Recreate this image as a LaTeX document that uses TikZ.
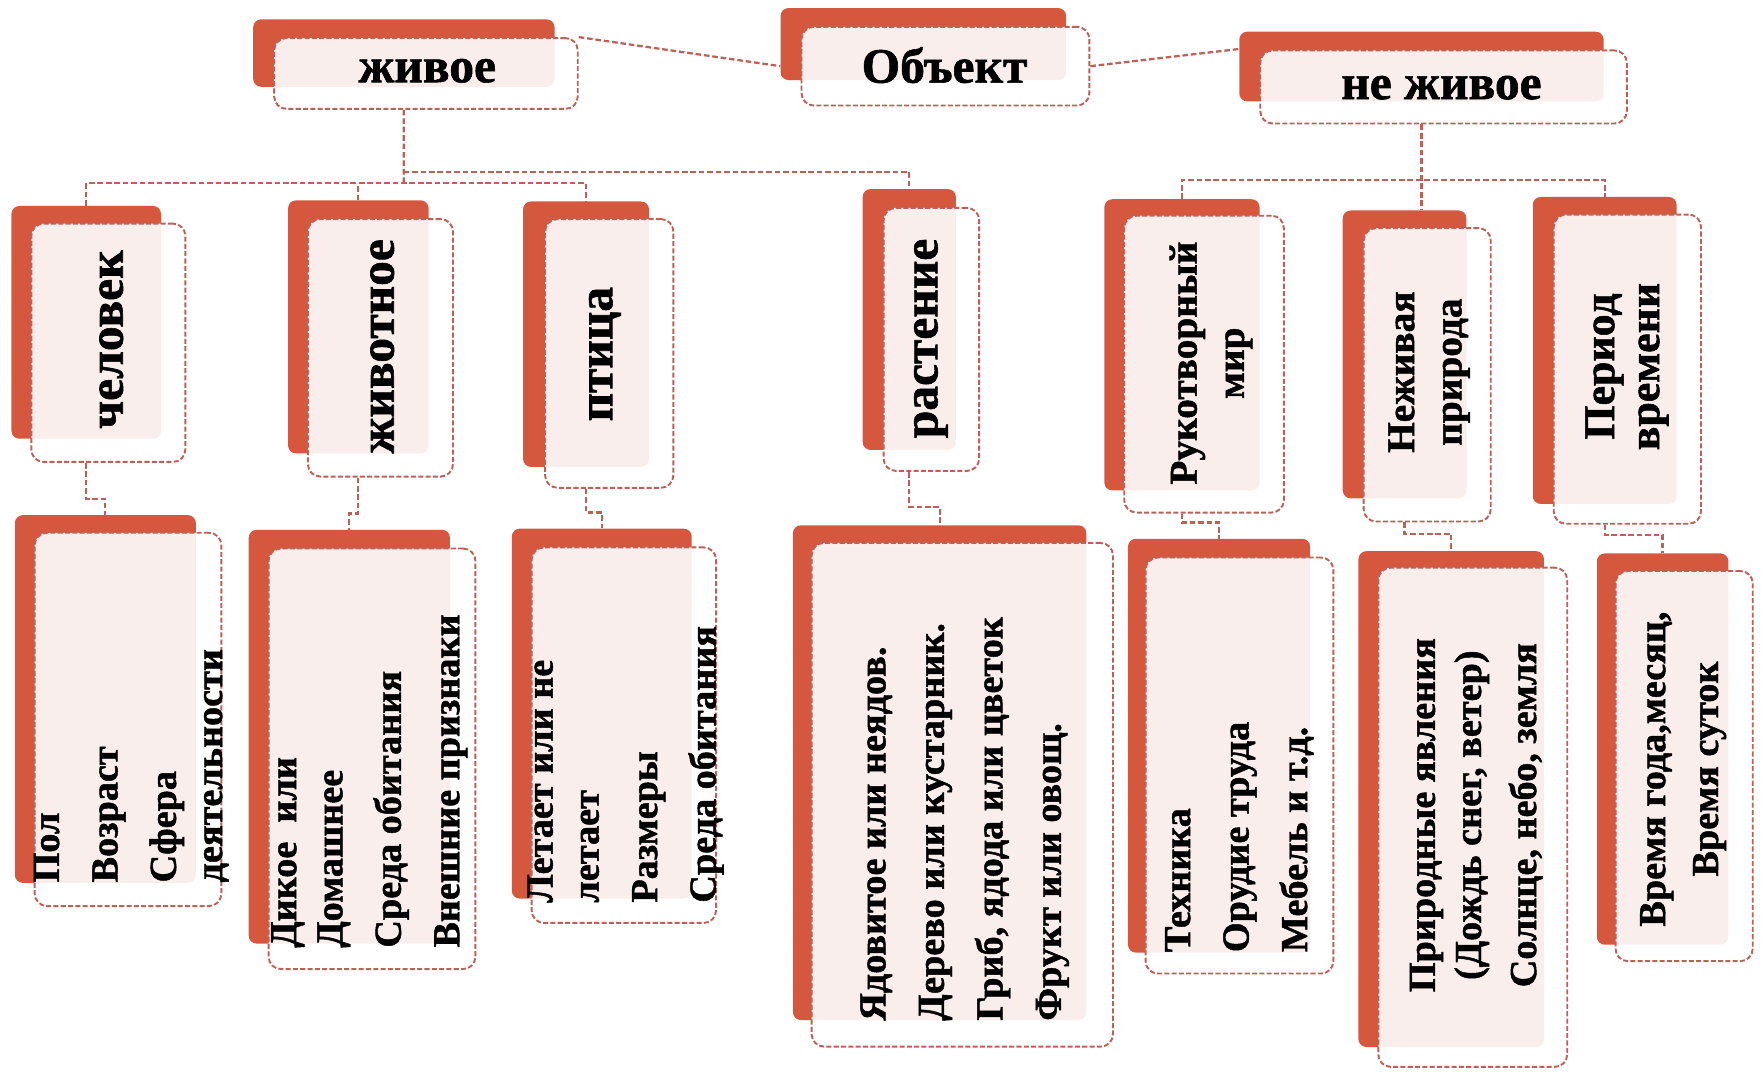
\documentclass[tikz,border=0pt]{standalone}
\usepackage{fontspec}
\setmainfont{Liberation Serif}[BoldFeatures={FakeBold=1.2}]
\usepackage{tikz}
\usetikzlibrary{positioning}
\usetikzlibrary{calc}

\definecolor{backred}{RGB}{213,88,62}
\definecolor{edgered}{RGB}{188,96,88}

\begin{document}
\begin{tikzpicture}[
    x=1pt, y=-1pt,
    backbox/.style={anchor=north west, inner sep=0, fill=backred, rounded corners=7pt},
    frontbox/.style={anchor=north west, inner sep=0, draw=edgered, fill=white, fill opacity=0.9,
        rounded corners=11pt, dash pattern=on 4.5pt off 2pt, line width=1.7pt},
    toptext/.style={inner sep=0, font=\fontsize{44}{48}\selectfont\bfseries},
    midtext/.style={inner sep=0, rotate=90, align=center, font=\fontsize{44}{48}\selectfont\bfseries},
    midtwo/.style={inner sep=0, rotate=90, align=center, font=\fontsize{35}{42}\selectfont\bfseries},
    bottext/.style={inner sep=0, rotate=90, anchor=north west, align=left, font=\fontsize{34}{41}\selectfont\bfseries},
    midtext3/.style={inner sep=0, rotate=90, align=center, font=\fontsize{34}{41}\selectfont\bfseries},
    link/.style={draw=edgered, dash pattern=on 5pt off 2.5pt, line width=2pt}
    ]
    \useasboundingbox (0,0) rectangle (1568,953);

    %Top row
    \node[backbox, minimum width=268, minimum height=60] (1Ab) at (225,17) {};
    \node[frontbox, minimum width=270, minimum height=63] (1A) at (243,33) {};
    \node[toptext] (1At) at (380,63) {живое};

    \node[backbox, minimum width=254, minimum height=64] (1Bb) at (694,7) {};
    \node[frontbox, minimum width=256, minimum height=70] (1B) at (712,23) {};
    \node[toptext] (1Bt) at (840,58) {Объект};

    \node[backbox, minimum width=324, minimum height=62] (1Cb) at (1102,28) {};
    \node[frontbox, minimum width=326, minimum height=65] (1C) at (1120,44) {};
    \node[toptext] (1Ct) at (1282,78) {не живое};

    %Middle row
    \node[backbox, minimum width=133, minimum height=207] (2Ab) at (10,183) {};
    \node[frontbox, minimum width=137, minimum height=212] (2A) at (27,198) {};
    \node[midtext] (2At) at (99,302) {человек};

    \node[backbox, minimum width=125, minimum height=225] (2Bb) at (256,178) {};
    \node[frontbox, minimum width=129, minimum height=229] (2B) at (273,194) {};
    \node[midtext] (2Bt) at (340,308) {животное};

    \node[backbox, minimum width=112, minimum height=236] (2Cb) at (465,179) {};
    \node[frontbox, minimum width=114, minimum height=239] (2C) at (484,194) {};
    \node[midtext] (2Ct) at (538,315) {птица};

    \node[backbox, minimum width=83, minimum height=232] (2Db) at (767,168) {};
    \node[frontbox, minimum width=85, minimum height=234] (2D) at (785,184) {};
    \node[midtext] (2Dt) at (828,301) {растение};

    \node[backbox, minimum width=138, minimum height=259] (2Eb) at (982,177) {};
    \node[frontbox, minimum width=142, minimum height=264] (2E) at (999,191) {};
    \node[midtwo] (2Et) at (1077,323) {Рукотворный\\мир};

    \node[backbox, minimum width=110, minimum height=256] (2Fb) at (1194,187) {};
    \node[frontbox, minimum width=113, minimum height=261] (2F) at (1212,202) {};
    \node[midtwo] (2Ft) at (1271,331) {Неживая\\природа};

    \node[backbox, minimum width=128, minimum height=273] (2Gb) at (1363,175) {};
    \node[frontbox, minimum width=131, minimum height=275] (2G) at (1381,190) {};
    \node[midtwo, font=\fontsize{39}{40}\selectfont\bfseries] (2Gt) at (1447,326) {Период\\времени};

    %Bottom row
    \node[backbox, minimum width=161, minimum height=327] (3Ab) at (13,458) {};
    \node[frontbox, minimum width=166, minimum height=332] (3A) at (30,473) {};
    \node[bottext] (3At) at (30,785) {Пол\\[11pt]Возраст\\[11pt]Сфера\\деятельности};

    \node[backbox, minimum width=179, minimum height=368] (3Bb) at (221,471) {};
    \node[frontbox, minimum width=184, minimum height=374] (3B) at (238,487) {};
    \node[bottext] (3Bt) at (241,843) {Дикое~~или\\Домашнее\\[11pt]Среда обитания\\[11pt]Внешние признаки};

    \node[backbox, minimum width=160, minimum height=329] (3Cb) at (455,470) {};
    \node[frontbox, minimum width=164, minimum height=334] (3C) at (472,486) {};
    \node[bottext] (3Ct) at (469,803) {Летает или не\\летает\\[11pt]Размеры\\[11pt]Среда обитания};

    \node[backbox, minimum width=261, minimum height=440] (3Db) at (705,467) {};
    \node[frontbox, minimum width=268, minimum height=448] (3D) at (721,482) {};
    \node[bottext] (3Dt) at (765,908) {Ядовитое или неядов.\\[11pt]Дерево или кустарник.\\[11pt]Гриб, ядода или цветок\\[11pt]Фрукт или овощ.};

    \node[backbox, minimum width=162, minimum height=368] (3Eb) at (1003,479) {};
    \node[frontbox, minimum width=167, minimum height=370] (3E) at (1018,495) {};
    \node[bottext] (3Et) at (1036,847) {Техника\\[11pt]Орудие труда\\[11pt]Мебель и т.д.};

    \node[backbox, minimum width=165, minimum height=441] (3Fb) at (1208,490) {};
    \node[frontbox, minimum width=168, minimum height=444] (3F) at (1225,504) {};
    \node[midtext3] (3Ft) at (1313,725) {Природные явления\\(Дождь снег, ветер)\\[8pt]Солнце, небо, земля};

    \node[backbox, minimum width=117, minimum height=348] (3Gb) at (1420,492) {};
    \node[frontbox, minimum width=122, minimum height=347] (3G) at (1436,507) {};
    \node[midtext3] (3Gt) at (1497,684) {Время года,месяц,\\[6pt]Время суток};

    %Lines
    \coordinate (bus1) at (359,163);
    \coordinate (bus2) at (359,153);
    \coordinate (bus3) at (1264,160);

    \draw[link] (1A.north east) -- (1Bb.west |- 1B.west);
    \draw[link] (1B.east) -- ($(1Cb.north west)!0.25!(1Cb.south west)$);

    \draw[link] (1Ab.south |- 1A.south) -- (bus1);
    \draw[link] (bus2) -| (2Db.north);
    \draw[link] (2Ab.north) |- (bus1) -| (2Cb.north);
    \draw[link] (2Bb.north) -- (2Bb.north |- bus1);

    \draw[link] (1Cb.south |- 1C.south) -- (1Cb.south |- 2Fb.north);
    \draw[link] (2Eb.north) |- (bus3) -| (2Gb.north);

    \draw[link] (2Ab.south |- 2A.south) -- ++(0,32) -| (3Ab.north);
    \draw[link] (2Bb.south |- 2B.south) -- ++(0,32) -| (3Bb.north);
    \draw[link] (2Cb.south |- 2C.south) -- ++(0,21) -| (3Cb.north);
    \draw[link] (2Db.south |- 2D.south) -- ++(0,31) -| (3Db.north);
    \draw[link] (2Eb.south |- 2E.south) -- ++(0,8) -| (3Eb.north);
    \draw[link] (2Fb.south |- 2F.south) -- ++(0,10) -| (3Fb.north);
    \draw[link] (2Gb.south |- 2G.south) -- ++(0,9) -| (3Gb.north);

\end{tikzpicture}
\end{document}
